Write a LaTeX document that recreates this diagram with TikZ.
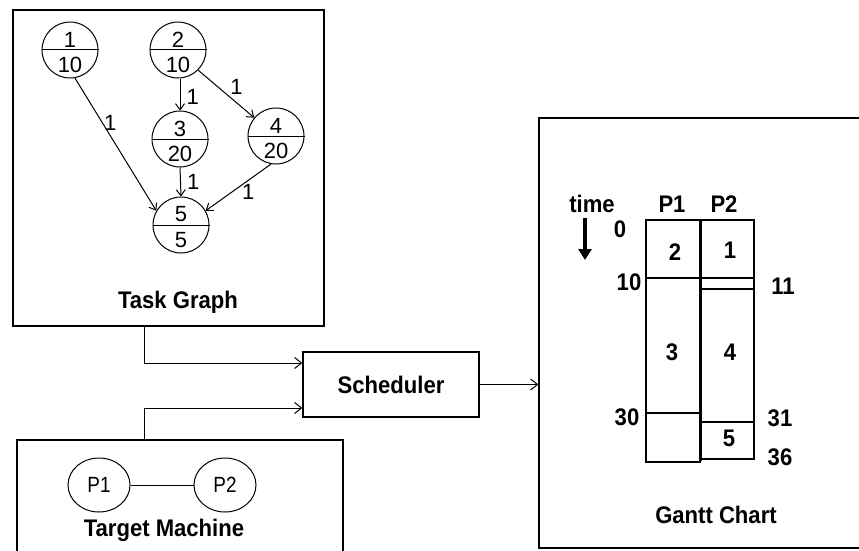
\documentclass[tikz,border=0pt]{standalone}
\usepackage{fontspec}
\setmainfont{Liberation Sans}
\newfontfamily\cfont[FakeStretch=0.92]{Liberation Sans}
\newfontfamily\nfont[FakeStretch=0.86]{Liberation Sans}
\usetikzlibrary{arrows.meta,calc,shapes.geometric}
\begin{document}
\begin{tikzpicture}[x=1pt,y=-1pt,
 frame/.style={draw,line width=1.3pt,rectangle,inner sep=0pt},
 tnode/.style={draw,line width=1pt,circle,minimum size=56pt,inner sep=0pt},
 pnode/.style={draw,line width=1pt,ellipse,minimum width=62pt,minimum height=54pt,inner sep=0pt,font=\nfont\fontsize{22}{22}\selectfont},
 num/.style={inner sep=0pt,font=\fontsize{22}{22}\selectfont},
 lab/.style={inner sep=1pt,font=\fontsize{22}{22}\selectfont},
 title/.style={inner sep=0pt,font=\cfont\fontsize{24}{24}\selectfont\bfseries},
 gl/.style={inner sep=0pt,font=\cfont\fontsize{24}{24}\selectfont\bfseries},
 arr/.style={line width=1pt,-{Straight Barb[length=7pt,width=11pt]}},
 tedge/.style={line width=1pt,-{Straight Barb[length=6pt,width=9pt]}},
 gline/.style={line width=1.2pt},
]
\useasboundingbox (0,0) rectangle (859,551);
\fill[white] (0,0) rectangle (859,551);
\clip (0,0) rectangle (859,551);

% frames
\node[frame,minimum width=311pt,minimum height=316pt] (tg) at (168.5,168) {};
\node[frame,minimum width=176pt,minimum height=65pt,font=\cfont\fontsize{24}{24}\selectfont\bfseries] (sch) at (391,384.5) {Scheduler};
\node[frame,minimum width=326pt,minimum height=120pt] (tm) at (180,500) {};
\node[frame,minimum width=331pt,minimum height=430pt] (gc) at (704.5,333) {};

% task graph
\foreach \n/\x/\y/\a/\b in {n1/70/50/1/10, n2/178/50/2/10, n3/180/139/3/20, n4/276/136/4/20, n5/181/225/5/5} {
  \node[tnode] (\n) at (\x,\y) {};
  \draw[line width=1pt] (\n.west) -- (\n.east);
  \node[num] (\n a) at ([yshift=10.5pt]\n.center) {\a};
  \node[num] (\n b) at ([yshift=-15pt]\n.center) {\b};
}
\draw[tedge] (n1.-80) -- (n5.150) node[lab,pos=0.34,right=0pt] (l15) {1};
\draw[tedge] (n3.north |- n2.south) -- (n3.north) node[lab,pos=0.58,right=5pt] (l23) {1};
\draw[tedge] (n2.-45) -- (n4.140) node[lab,pos=0.55,above right=0pt] (l24) {1};
\draw[tedge] (n3.south) -- (n5.north) node[lab,pos=0.5,right=5pt] (l35) {1};
\draw[tedge] (n4.-100) -- (n5.30) node[lab,pos=0.35,below=2pt] (l45) {1};
\node[title] (tgt) at (178,302) {Task Graph};

% connectors
\draw[arr] ([xshift=-24.5pt]tg.south) |- ([yshift=21.5pt]sch.west);
\draw[arr] ([xshift=-36pt]tm.north) |- ([yshift=-23.5pt]sch.west);
\draw[arr] (sch.east) -- (sch.east -| gc.west);

% target machine
\node[pnode] (p1) at (99,485) {P1};
\node[pnode] (p2) at (225,485) {P2};
\draw[line width=1pt] (p1) -- (p2);
\node[title] (tmt) at (164,530) {Target Machine};

% gantt chart
\draw[gline] (646,220) rectangle (700,462);
\draw[gline] (700,220) rectangle (754,459);
\draw[gline] (646,278) -- (754,278);
\draw[gline] (700,289) -- (754,289);
\draw[gline] (646,413) -- (700,413);
\draw[gline] (700,422) -- (754,422);
\draw[line width=3pt] (700,219.4) -- (700,461);
\coordinate (ta) at (585,218);
\coordinate (tb) at (585,260);
\draw[line width=3.5pt,-{Triangle[length=11pt,width=13pt]}] (ta) -- (tb);
\node[gl] (gtime) at (592,204) {time};
\node[gl] (gp1) at (672,204) {P1};
\node[gl] (gp2) at (724,204) {P2};
\node[gl] (g0) at (620,229) {0};
\node[gl] (g2) at (675,252) {2};
\node[gl] (g1) at (730,250) {1};
\node[gl] (g10) at (629,282) {10};
\node[gl] (g11) at (783,286) {11};
\node[gl] (g3) at (672,352) {3};
\node[gl] (g4) at (730,352) {4};
\node[gl] (g30) at (627,417) {30};
\node[gl] (g31) at (780,418) {31};
\node[gl] (g5) at (729,438) {5};
\node[gl] (g36) at (780,457) {36};
\node[title] (gct) at (716,515) {Gantt Chart};
\end{tikzpicture}
\end{document}
